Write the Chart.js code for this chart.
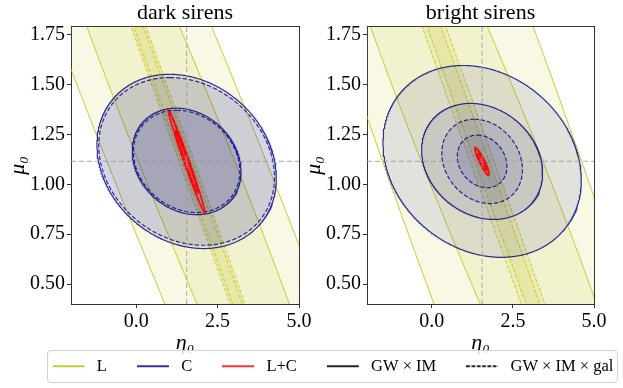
<!DOCTYPE html>
<html><head><meta charset="utf-8">
<script src="https://cdn.jsdelivr.net/npm/chart.js@4.4.1/dist/chart.umd.min.js"></script>
<style>
html,body{margin:0;padding:0;width:623px;height:388px;overflow:hidden;background:#fff;position:relative;}
canvas{position:absolute;}
#legendBox{position:absolute;left:47px;top:350px;width:569px;height:31px;border:1px solid #d3d3d3;border-radius:4px;background:rgba(255,255,255,0.85);}
</style></head><body>
<canvas id="c0" width="370" height="362" style="left:0px;top:0px"></canvas>
<canvas id="c1" width="369" height="362" style="left:296px;top:0px"></canvas>
<div id="legendBox"></div>
<canvas id="lg" width="700" height="170" style="left:-17px;top:328px"></canvas>
<script>
// ---------------- data ----------------
const panelTitles = ['dark sirens', 'bright sirens'];
const probeNames  = ['L', 'C', 'L+C'];
const surveyNames = ['GW × IM', 'GW × IM × gal'];
const fiducial    = [1.55, 1.115];          // [eta0, mu0]
const etaRange    = [-2, 5];
const muRange     = [0.4, 1.79];
const etaTicks    = [0, 2.5, 5];
const muTicks     = [0.5, 0.75, 1.0, 1.25, 1.5, 1.75];

// Confidence ellipses around the fiducial, each as [w, dx, dy]:
// w = half-width of horizontal chord through centre (eta),
// (dx, dy) = offset of the topmost point from centre (eta, mu).
// Listed as [1-sigma, 2-sigma].
const darkL_gwim    = [[1.48, -5.95, 2.45], [2.445, -9.72, 4.0]];
const darkL_gal     = [[0.154, -5.36, 2.45], [0.231, -8.75, 4.0]];
const darkC_gwim    = [[1.641, -0.318, 0.267], [2.705, -0.523, 0.437]];
const darkC_gal     = [[1.604, -0.310, 0.2565], [2.649, -0.513, 0.4205]];
const darkLC_gwim   = [[0.055, -0.348, 0.161], [0.09, -0.567, 0.263]];
const darkLC_gal    = [[0.05, -0.330, 0.153], [0.082, -0.540, 0.250]];

const brightL_gwim  = [[1.875, -5.95, 2.45], [3.07, -8.6, 4.0]];
const brightL_gal   = [[0.22, -5.38, 2.45], [0.37, -8.79, 4.0]];
const brightC_gwim  = [[1.831, -0.362, 0.291], [3.001, -0.592, 0.481]];
const brightC_gal   = [[0.751, -0.149, 0.132], [1.22, -0.241, 0.2114]];
const brightLC_gwim = [[0.059, -0.129, 0.044], [0.096, -0.21, 0.0717]];
const brightLC_gal  = [[0.052, -0.116, 0.039], [0.085, -0.19, 0.064]];

const panelContours = [
  [[darkL_gwim, darkL_gal], [darkC_gwim, darkC_gal], [darkLC_gwim, darkLC_gal]],
  [[brightL_gwim, brightL_gal], [brightC_gwim, brightC_gal], [brightLC_gwim, brightLC_gal]]
];

// ---------------- styles ----------------
const FONT = "'Liberation Serif', 'Times New Roman', serif";
const probeLine  = ['rgba(191,191,0,0.8)', 'rgba(0,0,128,0.8)', 'rgba(255,0,0,0.8)'];
const probeFill  = ['rgba(191,191,0,0.10)', 'rgba(0,0,128,0.09)', 'rgba(255,0,0,0.12)'];
const probeWidth = [1.0, 1.2, 1.3];
const surveyDash = [[], [3.7, 1.6]];
const surveyColor = ['#222', '#222'];

Chart.defaults.font.family = FONT;
Chart.defaults.color = '#000';

function ellipsePoints(c, e, n) {
  const [w, dx, dy] = e; const pts = [];
  for (let i = 0; i <= n; i++) {
    const t = 2 * Math.PI * i / n;
    pts.push({x: c[0] + dx * Math.cos(t) + w * Math.sin(t), y: c[1] + dy * Math.cos(t)});
  }
  return pts;
}

function buildDatasets(p) {
  const seq = [];
  panelContours[p].forEach((probe, pi) => {
    probe.forEach((levels, si) => {
      [1, 0].forEach(li => {
        seq.push({
          data: ellipsePoints(fiducial, levels[li], 720),
          showLine: true, pointRadius: 0, tension: 0,
          borderColor: probeLine[pi], borderWidth: probeWidth[pi],
          borderDash: surveyDash[si].map(v => v * probeWidth[pi]),
          backgroundColor: probeFill[pi], fill: 'shape'
        });
      });
    });
  });
  const fidStyle = {showLine: true, pointRadius: 0, fill: false, borderColor: 'rgba(150,150,150,0.65)', borderWidth: 1.2, borderDash: [5, 3]};
  seq.push(Object.assign({data: [{x: fiducial[0], y: muRange[0]}, {x: fiducial[0], y: muRange[1]}]}, fidStyle));
  seq.push(Object.assign({data: [{x: etaRange[0], y: fiducial[1]}, {x: etaRange[1], y: fiducial[1]}]}, fidStyle));
  seq.forEach((d, i) => d.order = seq.length - i);
  return seq;
}

const YW = 71, XH = 58;
function makeChart(id, p) {
  return new Chart(document.getElementById(id), {
    type: 'scatter',
    data: {datasets: buildDatasets(p)},
    options: {
      responsive: false, animation: false, devicePixelRatio: 1, events: [],
      layout: {padding: {top: 0, left: 0, right: 0, bottom: 0}},
      plugins: {
        legend: {display: false}, tooltip: {enabled: false},
        title: {display: true, text: panelTitles[p], color: '#000',
                font: {size: 22, weight: 'normal', family: FONT, lineHeight: 1.2},
                padding: {top: 0, bottom: 0.4}}
      },
      scales: {
        x: {type: 'linear', position: 'bottom', min: etaRange[0], max: etaRange[1],
            afterBuildTicks: s => { s.ticks = etaTicks.map(v => ({value: v})); },
            afterFit: s => { s.height = XH; },
            ticks: {font: {size: 20}, color: '#000', padding: 2, maxRotation: 0, callback: v => Number(v).toFixed(1)},
            grid: {drawOnChartArea: false, drawTicks: true, tickLength: 4, color: '#333'},
            border: {display: true, color: '#333', width: 1},
            title: {display: true, text: 'η₀', font: {size: 22, style: 'italic'}, color: '#000', padding: {top: 0, bottom: 5.5}}},
        y: {type: 'linear', position: 'left', min: muRange[0], max: muRange[1],
            afterBuildTicks: s => { s.ticks = muTicks.map(v => ({value: v})); },
            afterFit: s => { s.width = YW; },
            ticks: {font: {size: 20}, color: '#000', padding: 2, callback: v => Number(v).toFixed(2)},
            grid: {drawOnChartArea: false, drawTicks: true, tickLength: 4, color: '#333'},
            border: {display: true, color: '#333', width: 1},
            title: {display: true, text: 'μ₀', font: {size: 22, style: 'italic'}, color: '#000', padding: {top: 5, bottom: 0}}},
        xTop: {type: 'linear', position: 'top', min: etaRange[0], max: etaRange[1],
            afterBuildTicks: s => { s.ticks = []; }, afterFit: s => { s.height = 0; },
            ticks: {display: false}, grid: {drawOnChartArea: false, drawTicks: false},
            border: {display: true, color: '#333', width: 1}},
        yRight: {type: 'linear', position: 'right', min: muRange[0], max: muRange[1],
            afterBuildTicks: s => { s.ticks = []; }, afterFit: s => { s.width = YW; },
            ticks: {display: false}, grid: {drawOnChartArea: false, drawTicks: false},
            border: {display: true, color: '#333', width: 1}}
      }
    }
  });
}
makeChart('c0', 0);
makeChart('c1', 1);

// ---------------- legend ----------------
function handle(color, dash, lw) {
  const c = document.createElement('canvas'); c.width = 36; c.height = 6;
  const g = c.getContext('2d');
  g.strokeStyle = color; g.lineWidth = lw; g.setLineDash(dash);
  g.beginPath(); g.moveTo(0, 3); g.lineTo(32, 3); g.stroke();
  return c;
}
const legendItems = [
  ...probeNames.map((n, i) => ({text: n, img: handle(probeLine[i], [], 2)})),
  ...surveyNames.map((n, i) => ({text: n, img: handle(surveyColor[i], i ? [3.7, 1.6] : [], 2)}))
];
new Chart(document.getElementById('lg'), {
  type: 'scatter',
  data: {datasets: [{data: []}]},
  options: {
    responsive: false, animation: false, devicePixelRatio: 1, events: [],
    scales: {x: {display: false}, y: {display: false}},
    plugins: {
      tooltip: {enabled: false},
      legend: {display: true, position: 'top', align: 'center',
        labels: {usePointStyle: true, pointStyleWidth: 36, padding: 30, color: '#000',
          font: {size: 16.5, family: FONT},
          generateLabels: () => legendItems.map((it, i) => ({
            text: it.text, pointStyle: it.img, fillStyle: 'rgba(0,0,0,0)', strokeStyle: 'rgba(0,0,0,0)',
            lineWidth: 0, hidden: false, datasetIndex: 0
          }))}}
    }
  }
});
</script>
</body></html>
